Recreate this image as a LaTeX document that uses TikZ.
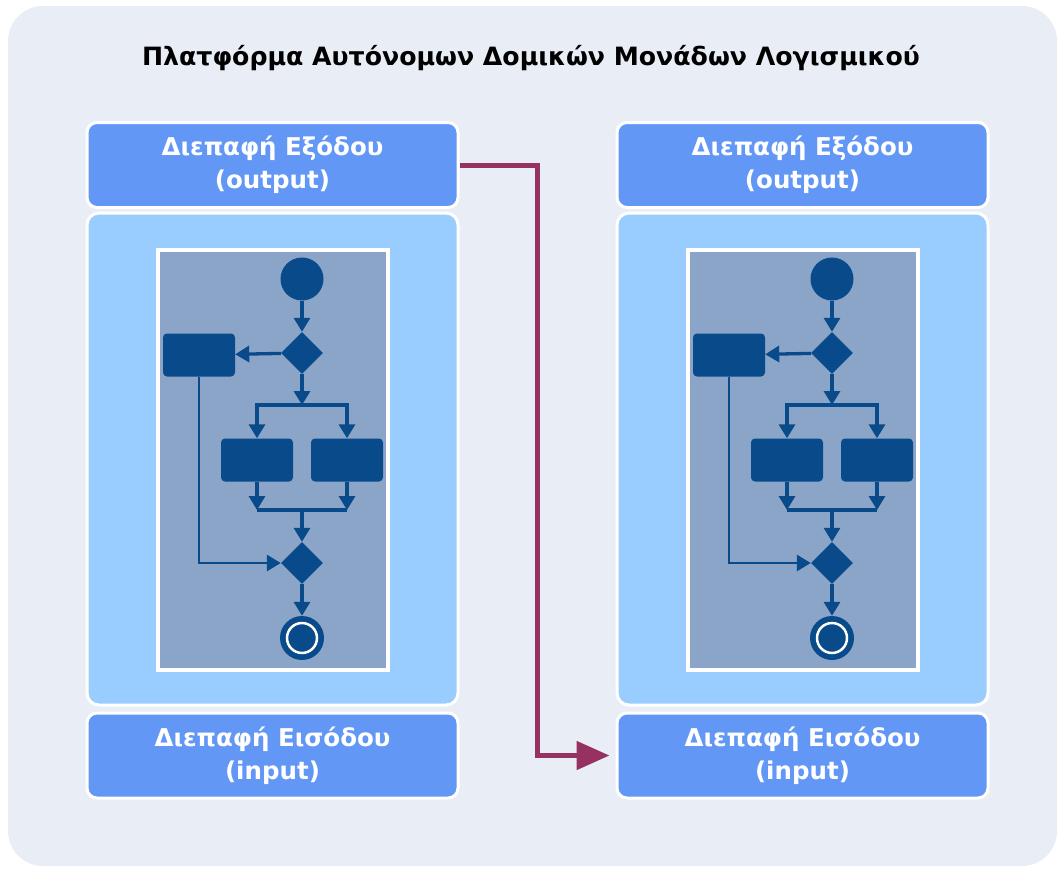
\documentclass[tikz,border=0pt]{standalone}
\usepackage{fontspec}
\setmainfont{DejaVu Sans}
\usetikzlibrary{shapes.geometric,arrows.meta}

\definecolor{platbg}{HTML}{E8EDF6}
\definecolor{ifblue}{HTML}{6397F6}
\definecolor{coreblue}{HTML}{99CCFF}
\definecolor{panelgrey}{HTML}{8BA5C8}
\definecolor{flowdark}{HTML}{084A8A}
\definecolor{linkred}{HTML}{963262}

\tikzset{
    iface/.style={draw=white, line width=3pt, fill=ifblue, rounded corners=10pt,
        text=white, align=center, font=\fontsize{24.5}{33}\selectfont\bfseries,
        minimum width=371pt, minimum height=85pt, inner sep=0pt},
    core/.style={draw=white, line width=3pt, fill=coreblue, rounded corners=12pt,
        minimum width=371pt, minimum height=492pt},
    panel/.style={draw=white, line width=4pt, fill=panelgrey,
        minimum width=230pt, minimum height=420pt},
    act/.style={fill=flowdark, rounded corners=4pt, minimum width=72pt,
        minimum height=43pt, inner sep=0pt},
    choice/.style={diamond, fill=flowdark, minimum size=42pt, inner sep=0pt},
    flow/.style={draw=flowdark, line width=3.3pt, -{Triangle[length=14pt,width=16pt]}},
    link/.style={draw=linkred, line width=5pt, -{Triangle[length=33pt,width=28pt]}}
}

\begin{document}
\begin{tikzpicture}[x=1pt, y=-1pt]
    \useasboundingbox (0,0) rectangle (1063,870);

    % Platform background and title
    \fill[platbg, rounded corners=35pt] (8,6) rectangle (1057,866);
    \node[font=\fontsize{25.2}{30}\selectfont\bfseries] (title) at (531,58)
        {Πλατφόρμα Αυτόνομων Δομικών Μονάδων Λογισμικού};

    % Two self-contained units
    \foreach \c/\dx in {L/0, R/530} {
        \begin{scope}[xshift=\dx pt]
            % Interfaces and core
            \node[iface] (out\c) at (272.5,165) {Διεπαφή Εξόδου\\(output)};
            \node[core] (core\c) at (272.5,459) {};
            \node[iface] (in\c) at (272.5,755.5) {Διεπαφή Εισόδου\\(input)};
            \node[panel] (panel\c) at (273,460) {};

            % Activity flow inside the unit
            \node[circle, fill=flowdark, minimum size=43pt, inner sep=0pt] (start\c) at (302,279) {};
            \node[choice] (split\c) at (302,353) {};
            \node[act] (side\c) at (199,355) {};
            \coordinate (forkT\c) at (302,405);
            \node[act] (actA\c) at (257,460) {};
            \node[act] (actB\c) at (347,460) {};
            \coordinate (joinB\c) at (302,510);
            \node[choice] (merge\c) at (302,563) {};
            \node[circle, fill=flowdark, minimum size=44pt, inner sep=0pt] (end\c) at (302,638) {};
            \draw[white, line width=2.5pt] (end\c.center) circle[radius=15pt];

            \draw[flow] (start\c) -- (split\c);
            \draw[flow] (split\c) -- (side\c);
            \draw[flow] (split\c) -- (forkT\c);
            \draw[flow] (forkT\c) -| (actA\c);
            \draw[flow] (forkT\c) -| (actB\c);
            \draw[flow] (actA\c) -- (actA\c |- joinB\c);
            \draw[flow] (actB\c) -- (actB\c |- joinB\c);
            \draw[flowdark, line width=3.3pt] (actA\c |- joinB\c) -- (actB\c |- joinB\c);
            \draw[flow] (joinB\c) -- (merge\c);
            \draw[flow, line width=2.8pt] (side\c) |- (merge\c);
            \draw[flow] (merge\c) -- (end\c);
        \end{scope}
    }

    % Output of the first unit feeds the input of the second
    \coordinate (bend) at (537,460);
    \draw[link, shorten >=6pt] (outL.east) -| (bend) |- (inR.west);
\end{tikzpicture}
\end{document}
